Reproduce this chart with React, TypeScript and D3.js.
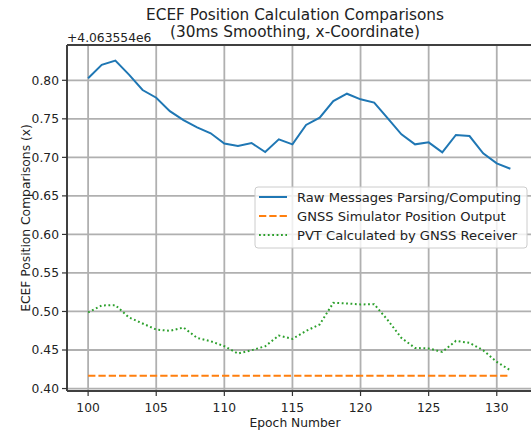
import React from "react";
import * as d3 from "d3";

const epochs = d3.range(100, 132);
const rawParsing = [
  0.8026, 0.82, 0.8255, 0.8073, 0.7874, 0.7774, 0.76, 0.7484, 0.739, 0.7312,
  0.718, 0.7147, 0.7186, 0.7069, 0.7234, 0.7169, 0.742, 0.7515, 0.773, 0.7826,
  0.7753, 0.771, 0.7506, 0.7299, 0.7169, 0.7195, 0.7065, 0.729, 0.7277, 0.7052,
  0.6922, 0.6852,
];
const simulatorOutput = epochs.map(() => 0.4166);
const receiverPvt = [
  0.4987, 0.5078, 0.5082, 0.4922, 0.4844, 0.4766, 0.4748, 0.4792, 0.4657, 0.4614,
  0.4549, 0.4454, 0.4497, 0.4549, 0.4688, 0.4644, 0.4748, 0.4831, 0.5112, 0.5104,
  0.5091, 0.5095, 0.4887, 0.4657, 0.4527, 0.452, 0.4475, 0.4618, 0.4592, 0.4497,
  0.4345, 0.4237,
];
const xTicks = [100, 105, 110, 115, 120, 125, 130];
const yTicks = [0.4, 0.45, 0.5, 0.55, 0.6, 0.65, 0.7, 0.75, 0.8];

const series = [
  { label: "Raw Messages Parsing/Computing", values: rawParsing, color: "#1f77b4", dash: "none" },
  { label: "GNSS Simulator Position Output", values: simulatorOutput, color: "#ff7f0e", dash: "7.3,3" },
  { label: "PVT Calculated by GNSS Receiver", values: receiverPvt, color: "#2ca02c", dash: "1.8,2.6" },
];

const font = "'DejaVu Sans', sans-serif";

const App = () => {
  const width = 531;
  const height = 434;
  const left = 67;
  const right = 531.5;
  const top = 45;
  const bottom = 391;

  const x = d3.scaleLinear().domain([98.45, 132.55]).range([left, right]);
  const y = d3.scaleLinear().domain([0.3968, 0.8458]).range([bottom, top]);

  const line = (vals) =>
    d3
      .line()
      .x((d, i) => x(epochs[i]))
      .y((d) => y(d))(vals);

  return (
    <svg
      width={width}
      height={height}
      style={{ position: "absolute", left: 0, top: 0, background: "#fff" }}
      fontFamily={font}
    >
      <defs>
        <clipPath id="plot">
          <rect x={left} y={top} width={right - left} height={bottom - top} />
        </clipPath>
      </defs>

      {/* grid */}
      {xTicks.map((t) => (
        <line key={"gx" + t} x1={x(t)} x2={x(t)} y1={top} y2={bottom} stroke="#b0b0b0" strokeWidth={1.8} />
      ))}
      {yTicks.map((t) => (
        <line key={"gy" + t} x1={left} x2={right} y1={y(t)} y2={y(t)} stroke="#b0b0b0" strokeWidth={1.8} />
      ))}

      <g clipPath="url(#plot)">
        {series.map((s) => (
          <path
            key={s.label}
            d={line(s.values)}
            fill="none"
            stroke={s.color}
            strokeWidth={2}
            strokeDasharray={s.dash}
          />
        ))}
      </g>

      {/* spines */}
      <line x1={left} x2={right} y1={top} y2={top} stroke="#404040" strokeWidth={2} />
      <line x1={left} x2={right} y1={bottom} y2={bottom} stroke="#404040" strokeWidth={2} />
      <line x1={left} x2={left} y1={top} y2={bottom} stroke="#404040" strokeWidth={2} />

      {/* x ticks */}
      {xTicks.map((t) => (
        <g key={"xt" + t}>
          <line x1={x(t)} x2={x(t)} y1={bottom} y2={bottom + 5} stroke="#333" strokeWidth={1.2} />
          <text x={x(t)} y={411.5} textAnchor="middle" fontSize={12.3} fill="#222">
            {t}
          </text>
        </g>
      ))}
      {/* y ticks */}
      {yTicks.map((t) => (
        <g key={"yt" + t}>
          <line x1={left - 5} x2={left} y1={y(t)} y2={y(t)} stroke="#333" strokeWidth={1.2} />
          <text x={left - 8} y={y(t)} dy="0.35em" textAnchor="end" fontSize={12.3} fill="#222">
            {d3.format(".2f")(t)}
          </text>
        </g>
      ))}

      <text x={left} y={41.5} fontSize={12.3} fill="#222">
        +4.063554e6
      </text>

      <text x={295} y={423} dy="0.35em" textAnchor="middle" fontSize={12.3} fill="#222">
        Epoch Number
      </text>
      <text
        transform={`translate(26,${(top + bottom) / 2}) rotate(-90)`}
        textAnchor="middle"
        dy="0.35em"
        fontSize={12.3}
        fill="#222"
      >
        ECEF Position Comparisons (x)
      </text>

      <text x={295} y={20} textAnchor="middle" fontSize={15.3} fill="#222">
        ECEF Position Calculation Comparisons
      </text>
      <text x={295} y={37} textAnchor="middle" fontSize={15.3} fill="#222">
        (30ms Smoothing, x-Coordinate)
      </text>

      {/* legend */}
      <g>
        <rect x={255} y={187} width={272} height={61} rx={3} fill="#fff" fillOpacity={0.8} stroke="#ccc" strokeWidth={1} />
        {series.map((s, i) => {
          const ly = 197 + i * 19;
          return (
            <g key={"lg" + i}>
              <line x1={259} x2={287} y1={ly} y2={ly} stroke={s.color} strokeWidth={2} strokeDasharray={s.dash} />
              <text x={297} y={ly} dy="0.35em" fontSize={13.1} fill="#222">
                {s.label}
              </text>
            </g>
          );
        })}
      </g>
    </svg>
  );
};

export default App;
